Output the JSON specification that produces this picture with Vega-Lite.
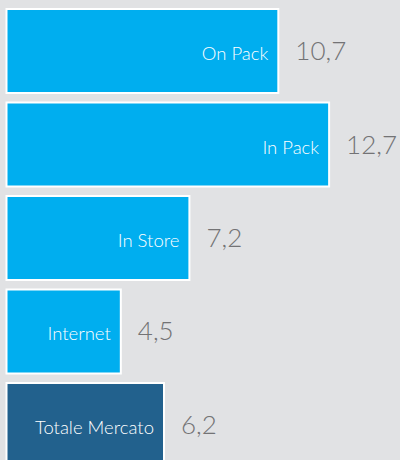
{
  "$schema": "https://vega.github.io/schema/vega-lite/v6.json",
  "width": 393.5,
  "height": 458,
  "autosize": {"type": "none"},
  "padding": {"top": 9, "left": 6.5, "right": 0, "bottom": 0},
  "background": "#e1e2e4",
  "config": {"view": {"stroke": null}},
  "data": {
    "values": [
      {"canale": "On Pack", "valore": 10.7, "etichetta": "10,7", "ordine": 1, "tipo": "canale"},
      {"canale": "In Pack", "valore": 12.7, "etichetta": "12,7", "ordine": 2, "tipo": "canale"},
      {"canale": "In Store", "valore": 7.2, "etichetta": "7,2", "ordine": 3, "tipo": "canale"},
      {"canale": "Internet", "valore": 4.5, "etichetta": "4,5", "ordine": 4, "tipo": "canale"},
      {"canale": "Totale Mercato", "valore": 6.2, "etichetta": "6,2", "ordine": 5, "tipo": "totale"}
    ]
  },
  "encoding": {
    "y": {
      "field": "canale",
      "type": "nominal",
      "sort": {"field": "ordine", "order": "ascending"},
      "scale": {"paddingInner": 0.1016, "paddingOuter": 0},
      "axis": null
    },
    "x": {
      "field": "valore",
      "type": "quantitative",
      "scale": {"domain": [0, 15.49], "nice": false, "zero": true},
      "axis": null
    }
  },
  "layer": [
    {
      "mark": {"type": "bar", "stroke": "white", "strokeWidth": 2, "cornerRadius": 0},
      "encoding": {
        "color": {
          "field": "tipo",
          "type": "nominal",
          "scale": {"domain": ["canale", "totale"], "range": ["#00aeef", "#22618d"]},
          "legend": null
        }
      }
    },
    {
      "mark": {"type": "text", "align": "right", "baseline": "middle", "dx": -10, "dy": 3, "color": "white", "font": "Lato", "fontWeight": 300, "fontSize": 18.5},
      "encoding": {"text": {"field": "canale"}}
    },
    {
      "mark": {"type": "text", "align": "left", "baseline": "middle", "dx": 17, "dy": 1, "color": "#737375", "font": "Lato", "fontWeight": 300, "fontSize": 26},
      "encoding": {"text": {"field": "etichetta"}}
    }
  ]
}
